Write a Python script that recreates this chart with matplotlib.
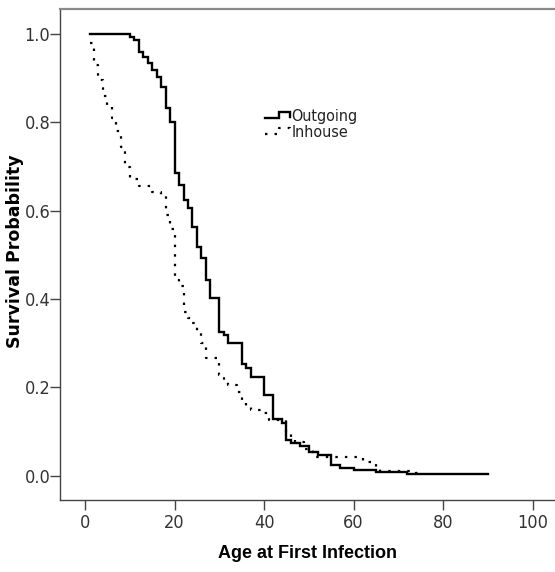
import numpy as np
import matplotlib
matplotlib.use("Agg")
import matplotlib.pyplot as plt
from matplotlib.legend_handler import HandlerBase
from matplotlib.lines import Line2D

# ---- data ----
out_age = [1, 10, 11, 12, 13, 14, 15, 16, 17, 18, 19, 20, 21, 22, 23, 24, 25, 26, 27, 28,
           30, 31, 32, 35, 36, 37, 40, 42, 44, 45, 46, 48, 50, 52, 55, 57, 60, 65, 72, 90]
out_surv = [1.0, 0.994, 0.986, 0.960, 0.949, 0.934, 0.918, 0.903, 0.881, 0.832, 0.801, 0.685,
            0.658, 0.624, 0.605, 0.564, 0.518, 0.492, 0.443, 0.402,
            0.326, 0.318, 0.300, 0.254, 0.243, 0.224, 0.183, 0.128, 0.120, 0.081, 0.075, 0.068,
            0.054, 0.048, 0.024, 0.018, 0.014, 0.009, 0.004, 0.004]

in_age = [1, 2, 3, 4, 5, 6, 7, 8, 9, 10, 12, 15, 17, 18, 19, 20, 21, 22, 23, 24, 25, 26, 27,
          30, 31, 32, 34, 35, 36, 37, 40, 41, 45, 46, 47, 49, 51, 62, 65, 66, 74, 75]
in_surv = [0.98, 0.93, 0.895, 0.86, 0.835, 0.81, 0.78, 0.745, 0.70, 0.672, 0.655, 0.643, 0.633,
           0.59, 0.558, 0.443, 0.43, 0.37, 0.356, 0.345, 0.325, 0.30, 0.266,
           0.228, 0.217, 0.205, 0.19, 0.168, 0.158, 0.149, 0.141, 0.126, 0.096, 0.081, 0.077,
           0.06, 0.042, 0.032, 0.017, 0.011, 0.005, 0.005]

series_labels = ["Outgoing", "Inhouse"]
x_ticks = [0, 20, 40, 60, 80, 100]
y_ticks = [0.0, 0.2, 0.4, 0.6, 0.8, 1.0]
x_label = "Age at First Infection"
y_label = "Survival Probability"

plt.rcParams["font.family"] = ["DejaVu Sans"]
plt.rcParams["font.stretch"] = "condensed"

fig = plt.figure(figsize=(5.55, 5.72), dpi=100)
ax = fig.add_axes([60 / 555, 72 / 572, 495 / 555, 491 / 572])

l1, = ax.step(out_age, out_surv, where="post", color="black", lw=1.7,
              solid_joinstyle="miter", label=series_labels[0])
l2, = ax.step(in_age, in_surv, where="post", color="black", lw=1.6,
              linestyle=(0, (1.1, 3.2)), label=series_labels[1])

ax.set_xlim(-5.6, 105.0)
ax.set_ylim(-0.055, 1.0566)
ax.set_xticks(x_ticks)
ax.set_yticks(y_ticks)
ax.set_yticklabels([f"{v:.1f}" for v in y_ticks])

ax.spines["right"].set_visible(False)
ax.spines["top"].set_color("#8a8a8a")
ax.spines["top"].set_linewidth(1.6)
ax.spines["left"].set_color("#444444")
ax.spines["bottom"].set_color("#444444")
ax.spines["left"].set_linewidth(1.0)
ax.spines["bottom"].set_linewidth(1.0)

ax.tick_params(axis="both", direction="out", length=7, width=1.0, color="#444444",
               labelsize=13, labelcolor="#333333")
ax.tick_params(axis="y", pad=0)
ax.tick_params(axis="x", pad=3)

ax.set_xlabel(x_label, fontsize=13, fontweight="bold", family=["Liberation Sans"],
              fontstretch="normal")
ax.xaxis.set_label_coords((307 - 60) / 495, (500 - 553) / 491)
ax.set_ylabel(y_label, fontsize=12.5, fontweight="bold", family=["DejaVu Sans"],
              fontstretch="normal")
ax.yaxis.set_label_coords((15 - 60) / 495, (500 - 251) / 491)
ax.xaxis.label.set_va("center")
ax.yaxis.label.set_va("center")


class StepHandler(HandlerBase):
    def create_artists(self, legend, orig_handle, xdescent, ydescent, width, height,
                       fontsize, trans):
        xs = np.array([0.0, 0.55, 0.55, 1.0, 1.0]) * width - xdescent
        ys = np.array([0.25, 0.25, 0.8, 0.8, 0.35]) * height - ydescent
        line = Line2D(xs, ys)
        line.update_from(orig_handle)
        line.set_data(xs, ys)
        line.set_transform(trans)
        return [line]


leg = ax.legend(handles=[l1, l2], handler_map={l1: StepHandler(), l2: StepHandler()},
                loc="upper left", bbox_to_anchor=(40.2, 0.83), bbox_transform=ax.transData,
                frameon=False, fontsize=11.5, handlelength=1.55, handletextpad=0.1,
                labelspacing=0.05, borderpad=0, borderaxespad=0)
for t in leg.get_texts():
    t.set_color("#222222")

fig.savefig("out.png", dpi=100)
